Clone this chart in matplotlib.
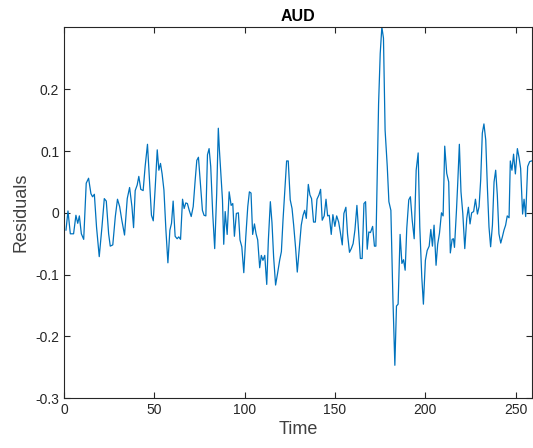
import matplotlib
matplotlib.use('Agg')
import matplotlib.pyplot as plt
from matplotlib.ticker import FuncFormatter

# residual series (time, value)
t = [1.1, 2.2, 3.5, 5.3, 6.6, 7.6, 8.5, 9.6, 10.9, 12.3, 13.6, 14.9, 15.8, 16.8,
     18.0, 19.5, 21.0, 22.3, 23.4, 24.7, 25.6, 27.0, 28.4, 29.6, 30.8, 32.0, 33.5,
     35.0, 36.3, 37.6, 38.5, 39.4, 40.5, 41.4, 42.5, 43.8, 44.9, 46.2, 47.5, 48.4,
     49.4, 50.5, 51.6, 52.5, 53.4, 54.3, 55.3, 56.4, 57.5, 58.6, 59.5, 60.4, 61.5,
     62.6, 63.5, 64.5, 65.6, 66.5, 67.4, 68.3, 69.3, 70.4, 71.5, 72.6, 73.5, 74.4,
     75.5, 76.6, 77.5, 78.5, 79.4, 80.3, 81.2, 82.3, 83.4, 84.5, 85.4, 86.0, 86.9,
     87.7, 88.4, 89.2, 90.3, 91.4, 92.5, 93.4, 94.3, 95.4, 96.5, 97.4, 98.4, 99.5,
     100.6, 101.7, 102.6, 103.5, 104.4, 105.4, 106.3, 107.2, 108.3, 109.2, 110.1,
     111.1, 112.2, 113.1, 114.2, 115.1, 116.0, 117.1, 118.2, 119.4, 120.3, 121.2,
     122.3, 123.2, 124.1, 125.2, 126.2, 127.1, 128.2, 129.1, 130.4, 131.3, 132.3,
     133.2, 134.1, 135.2, 136.1, 137.0, 138.1, 139.1, 140.0, 141.1, 142.0, 142.9,
     144.0, 145.0, 145.9, 146.8, 147.9, 148.8, 149.9, 150.9, 152.0, 152.9, 154.0,
     154.9, 156.0, 156.9, 158.0, 159.0, 160.0, 161.0, 162.1, 163.0, 164.0, 165.0,
     166.0, 166.9, 167.8, 168.7, 169.6, 170.8, 171.8, 172.6, 173.3, 174.1, 175.0,
     175.9, 176.8, 177.7, 178.9, 179.8, 180.9, 182.0, 183.1, 184.0, 184.9, 186.0,
     187.0, 187.9, 188.8, 189.7, 190.8, 191.7, 192.7, 193.8, 194.9, 196.0, 196.9,
     198.0, 198.9, 200.0, 201.0, 202.1, 203.0, 203.9, 204.8, 205.9, 206.8, 207.8,
     208.9, 209.8, 210.7, 211.8, 212.9, 213.8, 214.8, 215.5, 216.1, 217.2, 217.9,
     218.8, 219.7, 220.7, 221.8, 222.9, 223.8, 224.7, 225.6, 226.7, 227.7, 228.8,
     229.7, 230.6, 231.5, 232.4, 233.4, 234.3, 235.2, 236.1, 237.1, 238.0, 238.9,
     239.8, 240.7, 241.7, 242.6, 243.5, 244.4, 245.3, 246.3, 247.0, 247.9, 248.8,
     249.8, 250.9, 251.8, 252.7, 253.8, 254.6, 255.5, 256.6, 257.7, 258.8]
resid = [-0.028, 0.003, -0.034, -0.034, -0.004, -0.017, -0.005, -0.034, -0.043, 0.048,
         0.056, 0.031, 0.026, 0.030, -0.023, -0.071, -0.023, 0.023, 0.019, -0.034,
         -0.054, -0.052, -0.006, 0.022, 0.010, -0.012, -0.036, 0.023, 0.041, 0.010,
         -0.024, 0.036, 0.045, 0.059, 0.038, 0.036, 0.075, 0.111, 0.042, -0.004,
         -0.013, 0.042, 0.102, 0.069, 0.080, 0.063, 0.037, -0.028, -0.081, -0.028,
         -0.017, 0.019, -0.038, -0.042, -0.039, -0.043, 0.022, 0.007, 0.016, 0.015,
         0.004, -0.006, 0.010, 0.053, 0.085, 0.090, 0.048, 0.004, -0.004, -0.005,
         0.094, 0.104, 0.075, -0.001, -0.058, 0.031, 0.137, 0.102, 0.058,
         0.021, -0.051, 0.002, -0.035, 0.034, 0.012, 0.015, -0.038, -0.001, 0.000,
         -0.044, -0.055, -0.097, -0.039, 0.010, 0.034, 0.032, -0.035, -0.018, -0.034,
         -0.044, -0.089, -0.069, -0.077, -0.069, -0.116, -0.044, 0.018, -0.016,
         -0.071, -0.117, -0.098, -0.076, -0.063, -0.012, 0.042, 0.084, 0.084, 0.021,
         0.007, -0.020, -0.058, -0.096, -0.050, -0.020, -0.004, 0.004, -0.009,
         0.046, 0.029, 0.023, -0.015, -0.015, 0.022, 0.029, 0.038, -0.012, -0.005,
         0.022, -0.005, -0.004, -0.035, -0.003, -0.022, -0.005, -0.015, -0.031,
         -0.052, -0.001, 0.009, -0.034, -0.064, -0.058, -0.050, -0.028, 0.012,
         -0.028, -0.074, -0.074, 0.015, 0.018, -0.059, -0.031, -0.032, -0.022,
         -0.054, -0.054, 0.058, 0.177, 0.258, 0.301, 0.283, 0.134, 0.075, 0.018,
         0.004, -0.136, -0.247, -0.151, -0.148, -0.035, -0.082, -0.076, -0.093,
         -0.025, 0.021, 0.026, -0.012, -0.042, 0.069, 0.097, -0.023, -0.104,
         -0.148, -0.077, -0.061, -0.054, -0.027, -0.054, -0.020, -0.085, -0.051,
         -0.033, 0.000, -0.005, 0.108, 0.064, 0.050, -0.065, -0.043, -0.042,
         -0.056, 0.004, 0.048, 0.111, 0.034, -0.001, -0.058, -0.009, 0.009, -0.018,
         0.000, 0.002, 0.022, -0.002, 0.010, 0.053, 0.129, 0.144, 0.118, 0.042,
         -0.023, -0.055, -0.020, 0.050, 0.069, 0.029, -0.034, -0.049, -0.039,
         -0.028, -0.020, -0.005, -0.008, 0.084, 0.069, 0.095, 0.063, 0.104, 0.090,
         0.072, -0.002, 0.022, -0.006, 0.075, 0.083, 0.084]

x_ticks = [0, 50, 100, 150, 200, 250]
y_ticks = [-0.3, -0.2, -0.1, 0, 0.1, 0.2]

plt.rcParams['font.family'] = ['Liberation Sans', 'DejaVu Sans']

fig = plt.figure(figsize=(5.33, 4.48), dpi=100)
ax = fig.add_axes([64/533, 50/448, 468/533, 371/448])

ax.plot(t, resid, color='#0072BD', linewidth=0.9)

ax.set_xlim(0, 259)
ax.set_ylim(-0.3, max(resid))
ax.set_xticks(x_ticks)
ax.set_yticks(y_ticks)
ax.yaxis.set_major_formatter(FuncFormatter(lambda v, p: '0' if abs(v) < 1e-9 else '%g' % v))

axcol = '#262626'
for s in ax.spines.values():
    s.set_color(axcol)
    s.set_linewidth(0.8)
ax.tick_params(direction='in', length=4, width=0.8, color=axcol, labelcolor=axcol,
               labelsize=10, top=True, right=True)

ax.set_xlabel('Time', fontsize=13, color='#404040', labelpad=3)
ax.set_ylabel('Residuals', fontsize=13, color='#404040', labelpad=4)
ax.set_title('AUD', fontsize=11.5, fontweight='bold', pad=4)

fig.savefig('out.png', dpi=100)
